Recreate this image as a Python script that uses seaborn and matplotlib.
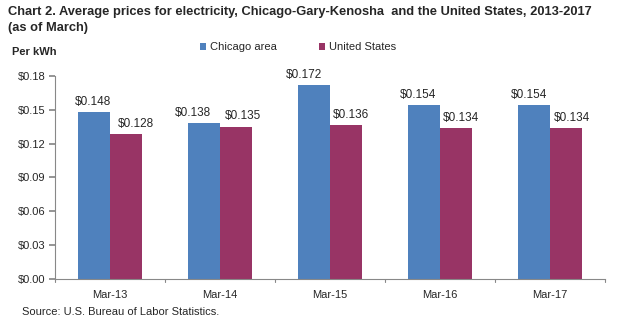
import matplotlib
matplotlib.use("Agg")
import matplotlib.pyplot as plt
import seaborn as sns
import pandas as pd
import numpy as np
from matplotlib import font_manager
from matplotlib.patches import Patch

categories = ["Mar-13", "Mar-14", "Mar-15", "Mar-16", "Mar-17"]
chicago = [0.148, 0.138, 0.172, 0.154, 0.154]
us = [0.128, 0.135, 0.136, 0.134, 0.134]
series_names = ["Chicago area", "United States"]
colors = ["#4F81BD", "#983465"]

# horizontal nudges of value labels (pixels), as placed in the original chart
label_dx = [[-1, -11, -10, -6, -5], [10, 7, 5, 5, 6]]

names = {f.name for f in font_manager.fontManager.ttflist}
narrow = "Liberation Sans Narrow" if "Liberation Sans Narrow" in names else "Liberation Sans"

sns.set_theme(style="white")
plt.rcParams["font.family"] = ["Liberation Sans", "DejaVu Sans"]

df = pd.DataFrame({
    "month": categories * 2,
    "price": chicago + us,
    "series": [series_names[0]] * 5 + [series_names[1]] * 5,
})

fig = plt.figure(figsize=(6.39, 3.34), dpi=100)
ax = fig.add_axes([0.086, 0.165, 0.861, 0.608])
sns.barplot(data=df, x="month", y="price", hue="series", palette=colors,
            width=0.58, saturation=1, ax=ax, legend=False, gap=0, linewidth=0)

ax.set_ylim(0, 0.18)
ax.set_xlim(-0.5, 4.5)
yt = np.arange(0, 0.1801, 0.03)
ax.set_yticks(yt)
ax.set_yticklabels([f"${v:.2f}" for v in yt], fontsize=8, family=narrow)
ax.set_xticks(range(5))
ax.set_xticklabels(categories, fontsize=8, family=narrow)
ax.tick_params(axis="x", length=0, pad=8)
ax.tick_params(axis="y", length=4, direction="out", color="#888888", pad=3, left=True)
for b in np.arange(-0.5, 5, 1):
    ax.plot([b, b], [0, -0.003], color="#888888", lw=0.8, clip_on=False)
ax.set_xlabel("")
ax.set_ylabel("")
for s in ["top", "right"]:
    ax.spines[s].set_visible(False)
for s in ["left", "bottom"]:
    ax.spines[s].set_color("#888888")
    ax.spines[s].set_linewidth(0.8)

for ci, cont in enumerate(ax.containers):
    anns = ax.bar_label(cont, labels=[f"${v:.3f}" for v in cont.datavalues], padding=3, fontsize=8.5)
    for j, a in enumerate(anns):
        a.xyann = (label_dx[ci][j] * 0.72, 3)

handles = [Patch(facecolor=c, edgecolor="none") for c in colors]
fig.legend(handles, series_names, loc="center", bbox_to_anchor=(0.466, 0.858), ncol=2,
           frameon=False, handlelength=0.6, handleheight=0.6, handletextpad=0.3,
           columnspacing=3.8, prop={"family": narrow, "size": 8})

fig.text(0.012, 0.963, "Chart 2. Average prices for electricity, Chicago-Gary-Kenosha  and the United States, 2013-2017",
         fontsize=9.3, fontweight="bold", family=narrow, va="center")
fig.text(0.012, 0.915, "(as of March)", fontsize=9.3, fontweight="bold", family=narrow, va="center")
fig.text(0.019, 0.843, "Per kWh", fontsize=8, fontweight="bold", family=narrow, va="center")
fig.text(0.034, 0.066, "Source: U.S. Bureau of Labor Statistics.", fontsize=8, family=narrow, va="center")

fig.savefig("out.png", dpi=100)
